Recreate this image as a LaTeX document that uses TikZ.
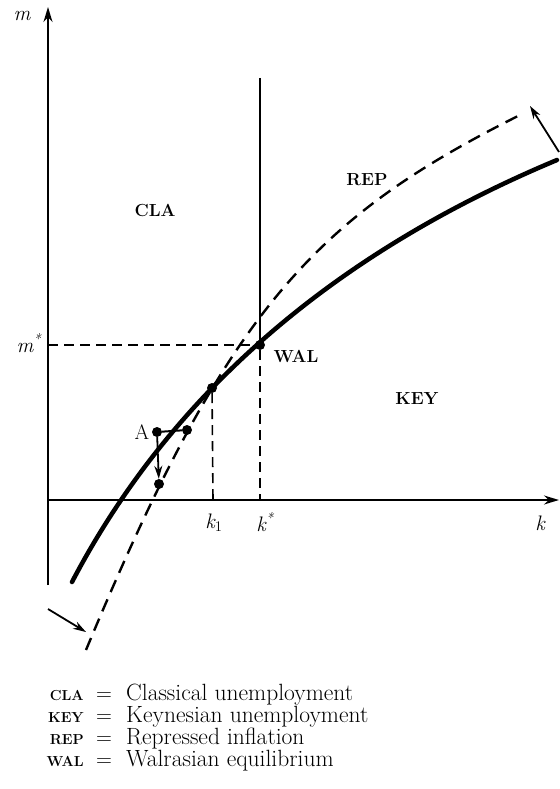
\documentclass[tikz,border=0pt]{standalone}
\usepackage{fontspec}
\usetikzlibrary{arrows.meta}
\begin{document}
\begin{tikzpicture}[x=1pt,y=-1pt,
  axis/.style={line width=1.8pt,-{Stealth[length=15pt,width=9pt]}},
  arr/.style={line width=1.8pt,-{Stealth[length=13pt,width=8pt]}},
  thin dash/.style={line width=1.6pt,dash pattern=on 10pt off 6pt},
  curve dash/.style={line width=2.4pt,dash pattern=on 13pt off 8pt},
  main curve/.style={line width=4.5pt},
  dot/.style={circle,fill=black,inner sep=0pt,minimum size=10pt},
  region/.style={font=\fontsize{17.5}{18}\selectfont\bfseries},
  mlabel/.style={font=\fontsize{21}{22}\selectfont\itshape},
  abbr/.style={font=\fontsize{14.5}{14}\selectfont\bfseries,anchor=base east,inner sep=0pt},
  eq/.style={font=\fontsize{22}{22}\selectfont,anchor=base,inner sep=0pt},
  legtext/.style={font=\fontsize{23.5}{22}\selectfont,anchor=base west,inner sep=0pt}
]
\useasboundingbox (0,0) rectangle (559,789);

% axes
\coordinate (O) at (48,500);
\coordinate (ytop) at (48,7);
\coordinate (ybot) at (48,585);
\coordinate (xend) at (559,500);
\draw[axis] (ybot) -- (ytop);
\draw[axis] (O) -- (xend);

% points
\node[dot] (wal) at (260,345) {};
\node[dot] (k1p) at (212,388) {};
\node[dot] (A) at (157,432) {};
\node[dot] (B) at (187,430) {};
\node[dot] (C) at (159,484) {};

% guide lines
\coordinate (kstop) at (260,78);
\coordinate (ksbot) at (260,500);
\coordinate (k1bot) at (213,500);
\coordinate (msleft) at (48,345);
\draw[line width=1.6pt] (kstop) -- (wal);
\draw[thin dash] (wal) -- (ksbot);
\draw[thin dash] (k1p) -- (k1bot);
\draw[thin dash] (msleft) -- (wal);

% curves
\coordinate (s0) at (72,582);
\coordinate (s1) at (170,395);
\coordinate (s2) at (332,254);
\coordinate (s3) at (557,160);
\draw[main curve,line cap=round] (s0) .. controls (s1) and (s2) .. (s3);
\coordinate (d0) at (86,650);
\coordinate (d1) at (226,314);
\coordinate (d2) at (310,220);
\coordinate (d3) at (520,115);
\draw[curve dash] (d0) .. controls (d1) and (d2) .. (d3);

% adjustment
\draw[line width=2pt] (A) -- (B);
\draw[arr] (A) -- (C);

% rotation arrows
\coordinate (tr1) at (559,152);
\coordinate (tr2) at (530,106);
\draw[arr] (tr1) -- (tr2);
\coordinate (bl1) at (48,609);
\coordinate (bl2) at (86,632);
\draw[arr] (bl1) -- (bl2);

% labels
\node[mlabel] (ml) at (22,16) {m};
\node[mlabel] (msl) at (29,343) {m\textsuperscript{*}};
\node[mlabel] (k1l) at (214,523) {k\textsubscript{\upshape 1}};
\node[mlabel] (ksl) at (265,522) {k\textsuperscript{*}};
\node[mlabel] (kl) at (540,523) {k};
\node[font=\fontsize{21}{22}\selectfont] (Al) at (142,432) {A};

\node[region] (cla) at (155,210) {CLA};
\node[region] (rep) at (367,180) {REP};
\node[region] (key) at (417,398) {KEY};
\node[region] (wall) at (296,356) {WAL};

% legend
\node[abbr] (a1) at (84,700) {CLA};
\node[eq] (e1) at (104,700) {=};
\node[legtext] (t1) at (126,700) {Classical unemployment};
\node[abbr] (a2) at (84,722) {KEY};
\node[eq] (e2) at (104,722) {=};
\node[legtext] (t2) at (126,722) {Keynesian unemployment};
\node[abbr] (a3) at (84,744) {REP};
\node[eq] (e3) at (104,744) {=};
\node[legtext] (t3) at (126,744) {Repressed inflation};
\node[abbr] (a4) at (84,766) {WAL};
\node[eq] (e4) at (104,766) {=};
\node[legtext] (t4) at (126,766) {Walrasian equilibrium};
\end{tikzpicture}
\end{document}
